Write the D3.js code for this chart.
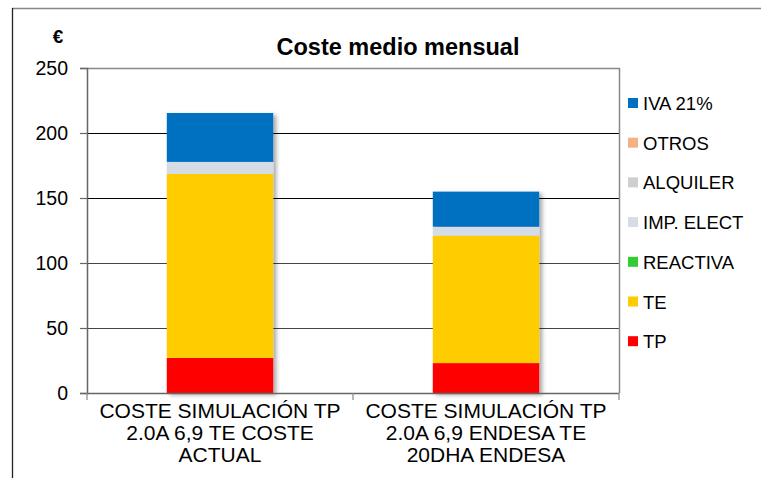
<!DOCTYPE html>
<meta charset="utf-8">
<script src="https://d3js.org/d3.v7.min.js"></script>
<style>
    body { margin: 0; background: #fff; }
    text { font-family: "Liberation Sans", Arial, sans-serif; }
</style>
<body>
<div id="chart"></div>
<script>
    // data
    var categories = ["COSTE SIMULACIÓN TP 2.0A 6,9 TE COSTE ACTUAL",
                      "COSTE SIMULACIÓN TP 2.0A 6,9 ENDESA TE 20DHA ENDESA"];
    var catLines = [["COSTE SIMULACIÓN TP", "2.0A 6,9 TE COSTE", "ACTUAL"],
                    ["COSTE SIMULACIÓN TP", "2.0A 6,9 ENDESA TE", "20DHA ENDESA"]];
    var seriesNames = ["TP", "TE", "REACTIVA", "IMP. ELECT", "ALQUILER", "OTROS", "IVA 21%"];
    var seriesColors = ["#FF0000", "#FFCC00", "#33CC33", "#D6DCE5", "#D0CECE", "#F4B183", "#0070C0"];
    var tp = [27, 23];
    var te = [141.5, 98];
    var reactiva = [0, 0];
    var impElect = [9.3, 6.9];
    var alquiler = [0, 0];
    var otros = [0, 0];
    var iva = [37.6, 27];
    var yTicks = [0, 50, 100, 150, 200, 250];

    var values = [tp, te, reactiva, impElect, alquiler, otros, iva];

    var width = 761, height = 479;
    var pLeft = 87, pRight = 619, pTop = 68, pBottom = 393;

    var svg = d3.select("#chart").append("svg")
        .attr("width", width)
        .attr("height", height);

    var defs = svg.append("defs");
    var f = defs.append("filter").attr("id", "shadow")
        .attr("x", "-10%").attr("y", "-10%").attr("width", "130%").attr("height", "130%");
    f.append("feDropShadow").attr("dx", 3).attr("dy", 2).attr("stdDeviation", 2)
        .attr("flood-color", "#000").attr("flood-opacity", 0.35);

    // outer frame (only top and left edges show)
    svg.append("line").attr("x1", 12).attr("x2", width).attr("y1", 8.5).attr("y2", 8.5)
        .attr("stroke", "#888").attr("stroke-width", 1.5);
    svg.append("line").attr("x1", 12.5).attr("x2", 12.5).attr("y1", 8).attr("y2", 478)
        .attr("stroke", "#222").attr("stroke-width", 1.3);

    var x = d3.scaleBand().domain(d3.range(categories.length))
        .range([pLeft, pRight]).paddingInner(0.6).paddingOuter(0.3);
    var y = d3.scaleLinear().domain([0, 250]).range([pBottom, pTop]);

    // gridlines
    svg.append("g").selectAll("line")
        .data(yTicks.filter(function (d) { return d > 0 && d < 250; }))
        .join("line")
        .attr("x1", pLeft).attr("x2", pRight)
        .attr("y1", function (d) { return Math.round(y(d)) + 0.5; })
        .attr("y2", function (d) { return Math.round(y(d)) + 0.5; })
        .attr("stroke", function (d) { return d >= 150 ? "#000" : "#444"; })
        .attr("stroke-width", 1);

    // plot border (top/right)
    svg.append("path")
        .attr("d", "M" + pLeft + "," + (pTop + 0.5) + "H" + (pRight + 0.5) + "V" + pBottom)
        .attr("fill", "none").attr("stroke", "#888").attr("stroke-width", 1.5);

    // stacked bars
    var stackData = categories.map(function (c, i) {
        var o = { i: i };
        seriesNames.forEach(function (s, k) { o[s] = values[k][i]; });
        return o;
    });
    var stacked = d3.stack().keys(seriesNames)(stackData);

    var bars = svg.append("g").attr("filter", "url(#shadow)");
    bars.selectAll("g")
        .data(stacked)
        .join("g")
        .attr("fill", function (d, k) { return seriesColors[k]; })
        .selectAll("rect")
        .data(function (d) { return d; })
        .join("rect")
        .attr("x", function (d) { return x(d.data.i); })
        .attr("width", x.bandwidth())
        .attr("y", function (d) { return y(d[1]); })
        .attr("height", function (d) { return y(d[0]) - y(d[1]); });

    // y axis
    var yAxis = svg.append("g")
        .attr("transform", "translate(" + pLeft + ",0)")
        .call(d3.axisLeft(y).tickValues(yTicks).tickSize(7).tickPadding(12));
    yAxis.select(".domain").attr("stroke", "#666").attr("stroke-width", 1.5);
    yAxis.selectAll(".tick line").attr("stroke", "#666").attr("stroke-width", 1.2);
    yAxis.selectAll(".tick text").attr("font-size", 19.5).attr("fill", "#000")
        .attr("font-family", "Liberation Sans, Arial, sans-serif");

    // x axis baseline and ticks
    var xg = svg.append("g");
    xg.append("line").attr("x1", pLeft).attr("x2", pRight)
        .attr("y1", pBottom + 0.5).attr("y2", pBottom + 0.5)
        .attr("stroke", "#666").attr("stroke-width", 1.5);
    xg.selectAll(".xt").data([pLeft, (pLeft + pRight) / 2, pRight]).join("line")
        .attr("class", "xt")
        .attr("x1", function (d) { return d; }).attr("x2", function (d) { return d; })
        .attr("y1", pBottom).attr("y2", pBottom + 7)
        .attr("stroke", "#888").attr("stroke-width", 1.2);

    var catG = xg.selectAll(".cat").data(catLines).join("text")
        .attr("class", "cat")
        .attr("text-anchor", "middle")
        .attr("font-size", 21)
        .attr("fill", "#000")
        .attr("x", function (d, i) { return x(i) + x.bandwidth() / 2; })
        .attr("y", 418);
    catG.selectAll("tspan").data(function (d) { return d; }).join("tspan")
        .attr("x", function () { return d3.select(this.parentNode).attr("x"); })
        .attr("dy", function (d, j) { return j === 0 ? 0 : 22; })
        .text(function (d) { return d; });

    // title and unit
    svg.append("text").attr("x", 398).attr("y", 55)
        .attr("text-anchor", "middle").attr("font-size", 23.5).attr("font-weight", "bold")
        .text("Coste medio mensual");
    svg.append("text").attr("x", 58).attr("y", 43)
        .attr("text-anchor", "middle").attr("font-size", 19).attr("font-weight", "bold")
        .text("€");

    // legend, top to bottom reversed order
    var legendItems = seriesNames.map(function (s, k) { return { name: s, color: seriesColors[k] }; }).reverse();
    var lg = svg.append("g").selectAll("g").data(legendItems).join("g")
        .attr("transform", function (d, i) { return "translate(628," + (103 + i * 39.7) + ")"; });
    lg.append("rect").attr("x", 0).attr("y", -5).attr("width", 10).attr("height", 10)
        .attr("fill", function (d) { return d.color; });
    lg.append("text").attr("x", 15).attr("y", 7).attr("font-size", 18.5).attr("fill", "#000")
        .text(function (d) { return d.name; });
</script>
</body>
